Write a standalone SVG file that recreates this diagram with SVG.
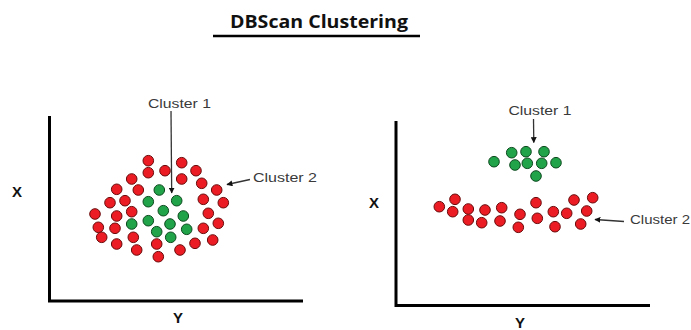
<svg xmlns="http://www.w3.org/2000/svg" width="691" height="330" viewBox="0 0 691 330">
<defs>
<style>
.r{fill:#ec1c24;stroke:#6a0a0a;stroke-width:1}
.g{fill:#21a34a;stroke:#0c4a1e;stroke-width:1}
.ax{stroke:#000;stroke-width:3;fill:none}
.lbl{font-family:"Liberation Sans",Arial,sans-serif;font-size:13px;fill:#3a3a3a}
.axl{font-family:"Liberation Sans",Arial,sans-serif;font-size:15px;font-weight:bold;fill:#111}
.con{stroke:#333;stroke-width:1.3;fill:none}
</style>
<marker id="ah" viewBox="0 0 10 10" refX="9" refY="5" markerWidth="6" markerHeight="6" orient="auto" markerUnits="userSpaceOnUse">
<path d="M0,0 L10,5 L0,10 z" fill="#111"/>
</marker>
</defs>
<rect width="691" height="330" fill="#fff"/>
<g id="title">
<text x="230" y="28" font-family="'Open Sans','Liberation Sans',sans-serif" font-size="18" font-weight="bold" fill="#111" textLength="178" lengthAdjust="spacingAndGlyphs">DBScan Clustering</text>
<line x1="213" y1="36" x2="420" y2="36" stroke="#000" stroke-width="2.5"/>
</g>
<g id="left-axes">
<polyline class="ax" points="49.5,116 49.5,301 303,301"/>
<text class="axl" x="12" y="197">X</text>
<text class="axl" x="173" y="323">Y</text>
</g>
<g id="right-axes">
<polyline class="ax" points="396,121 396,305.5 650,305.5"/>
<text class="axl" x="369" y="207.5">X</text>
<text class="axl" x="515" y="328">Y</text>
</g>
<g id="left-cluster2">
<circle class="r" cx="148.3" cy="160.7" r="5.3"/>
<circle class="r" cx="181.7" cy="162.7" r="5.3"/>
<circle class="r" cx="148.3" cy="172.7" r="5.3"/>
<circle class="r" cx="165" cy="170.7" r="5.3"/>
<circle class="r" cx="196" cy="170.7" r="5.3"/>
<circle class="r" cx="131.7" cy="179" r="5.3"/>
<circle class="r" cx="181.7" cy="179" r="5.3"/>
<circle class="r" cx="116.7" cy="189.3" r="5.3"/>
<circle class="r" cx="138.3" cy="190" r="5.3"/>
<circle class="r" cx="201.7" cy="183.3" r="5.3"/>
<circle class="r" cx="216.7" cy="190" r="5.3"/>
<circle class="r" cx="110" cy="202.7" r="5.3"/>
<circle class="r" cx="125" cy="200.7" r="5.3"/>
<circle class="r" cx="203.3" cy="199.3" r="5.3"/>
<circle class="r" cx="223.3" cy="202.7" r="5.3"/>
<circle class="r" cx="95" cy="214" r="5.3"/>
<circle class="r" cx="116.7" cy="216" r="5.3"/>
<circle class="r" cx="131.7" cy="211.7" r="5.3"/>
<circle class="r" cx="208.3" cy="213.3" r="5.3"/>
<circle class="r" cx="98.3" cy="227.3" r="5.3"/>
<circle class="r" cx="115" cy="228.3" r="5.3"/>
<circle class="r" cx="218.3" cy="223.3" r="5.3"/>
<circle class="r" cx="203.3" cy="228.3" r="5.3"/>
<circle class="r" cx="101.7" cy="237.3" r="5.3"/>
<circle class="r" cx="116.7" cy="244" r="5.3"/>
<circle class="r" cx="133.3" cy="237.3" r="5.3"/>
<circle class="r" cx="136.7" cy="250" r="5.3"/>
<circle class="r" cx="156.7" cy="244" r="5.3"/>
<circle class="r" cx="158.3" cy="256.7" r="5.3"/>
<circle class="r" cx="180" cy="250" r="5.3"/>
<circle class="r" cx="195" cy="243.3" r="5.3"/>
<circle class="r" cx="212.7" cy="240" r="5.3"/>
</g>
<g id="left-cluster1">
<circle class="g" cx="159.3" cy="190" r="5.3"/>
<circle class="g" cx="148.3" cy="201.7" r="5.3"/>
<circle class="g" cx="176.7" cy="200.7" r="5.3"/>
<circle class="g" cx="163.3" cy="210.7" r="5.3"/>
<circle class="g" cx="183.3" cy="216" r="5.3"/>
<circle class="g" cx="131.7" cy="224" r="5.3"/>
<circle class="g" cx="148.3" cy="220.7" r="5.3"/>
<circle class="g" cx="170" cy="224" r="5.3"/>
<circle class="g" cx="186.7" cy="229.3" r="5.3"/>
<circle class="g" cx="156.7" cy="231.7" r="5.3"/>
<circle class="g" cx="170.7" cy="237.3" r="5.3"/>
</g>
<g id="right-cluster1">
<circle class="g" cx="494" cy="161.7" r="5.3"/>
<circle class="g" cx="511.7" cy="152.7" r="5.3"/>
<circle class="g" cx="526" cy="151.7" r="5.3"/>
<circle class="g" cx="544" cy="151.7" r="5.3"/>
<circle class="g" cx="515" cy="165" r="5.3"/>
<circle class="g" cx="527.3" cy="163.3" r="5.3"/>
<circle class="g" cx="541.7" cy="163.3" r="5.3"/>
<circle class="g" cx="556" cy="162.7" r="5.3"/>
<circle class="g" cx="536" cy="176" r="5.3"/>
</g>
<g id="right-cluster2">
<circle class="r" cx="439.3" cy="206.7" r="5.3"/>
<circle class="r" cx="455" cy="199.3" r="5.3"/>
<circle class="r" cx="452.7" cy="211.7" r="5.3"/>
<circle class="r" cx="468.3" cy="209" r="5.3"/>
<circle class="r" cx="485" cy="210" r="5.3"/>
<circle class="r" cx="501.7" cy="207.7" r="5.3"/>
<circle class="r" cx="468.3" cy="220" r="5.3"/>
<circle class="r" cx="481.7" cy="222.7" r="5.3"/>
<circle class="r" cx="500" cy="221" r="5.3"/>
<circle class="r" cx="520" cy="214.3" r="5.3"/>
<circle class="r" cx="518.3" cy="227.3" r="5.3"/>
<circle class="r" cx="536" cy="202.7" r="5.3"/>
<circle class="r" cx="537.3" cy="218.3" r="5.3"/>
<circle class="r" cx="553.3" cy="211.7" r="5.3"/>
<circle class="r" cx="555" cy="226.7" r="5.3"/>
<circle class="r" cx="566.7" cy="213.3" r="5.3"/>
<circle class="r" cx="574" cy="200" r="5.3"/>
<circle class="r" cx="592.7" cy="197.7" r="5.3"/>
<circle class="r" cx="586.7" cy="211" r="5.3"/>
<circle class="r" cx="580.7" cy="224" r="5.3"/>
</g>
<g id="labels">
<text class="lbl" x="148" y="107.5" textLength="63" lengthAdjust="spacingAndGlyphs">Cluster 1</text>
<text class="lbl" x="253" y="182" textLength="64" lengthAdjust="spacingAndGlyphs">Cluster 2</text>
<text class="lbl" x="508.5" y="115" textLength="63" lengthAdjust="spacingAndGlyphs">Cluster 1</text>
<text class="lbl" x="630" y="223.5" textLength="60" lengthAdjust="spacingAndGlyphs">Cluster 2</text>
</g>
<g id="connectors">
<line class="con" x1="171" y1="111" x2="171.7" y2="193" marker-end="url(#ah)"/>
<line class="con" x1="250" y1="179.5" x2="227" y2="184.5" marker-end="url(#ah)"/>
<line class="con" x1="533.5" y1="119" x2="533.8" y2="142.5" marker-end="url(#ah)"/>
<line class="con" x1="624" y1="221.5" x2="595" y2="219.5" marker-end="url(#ah)"/>
</g>
</svg>
